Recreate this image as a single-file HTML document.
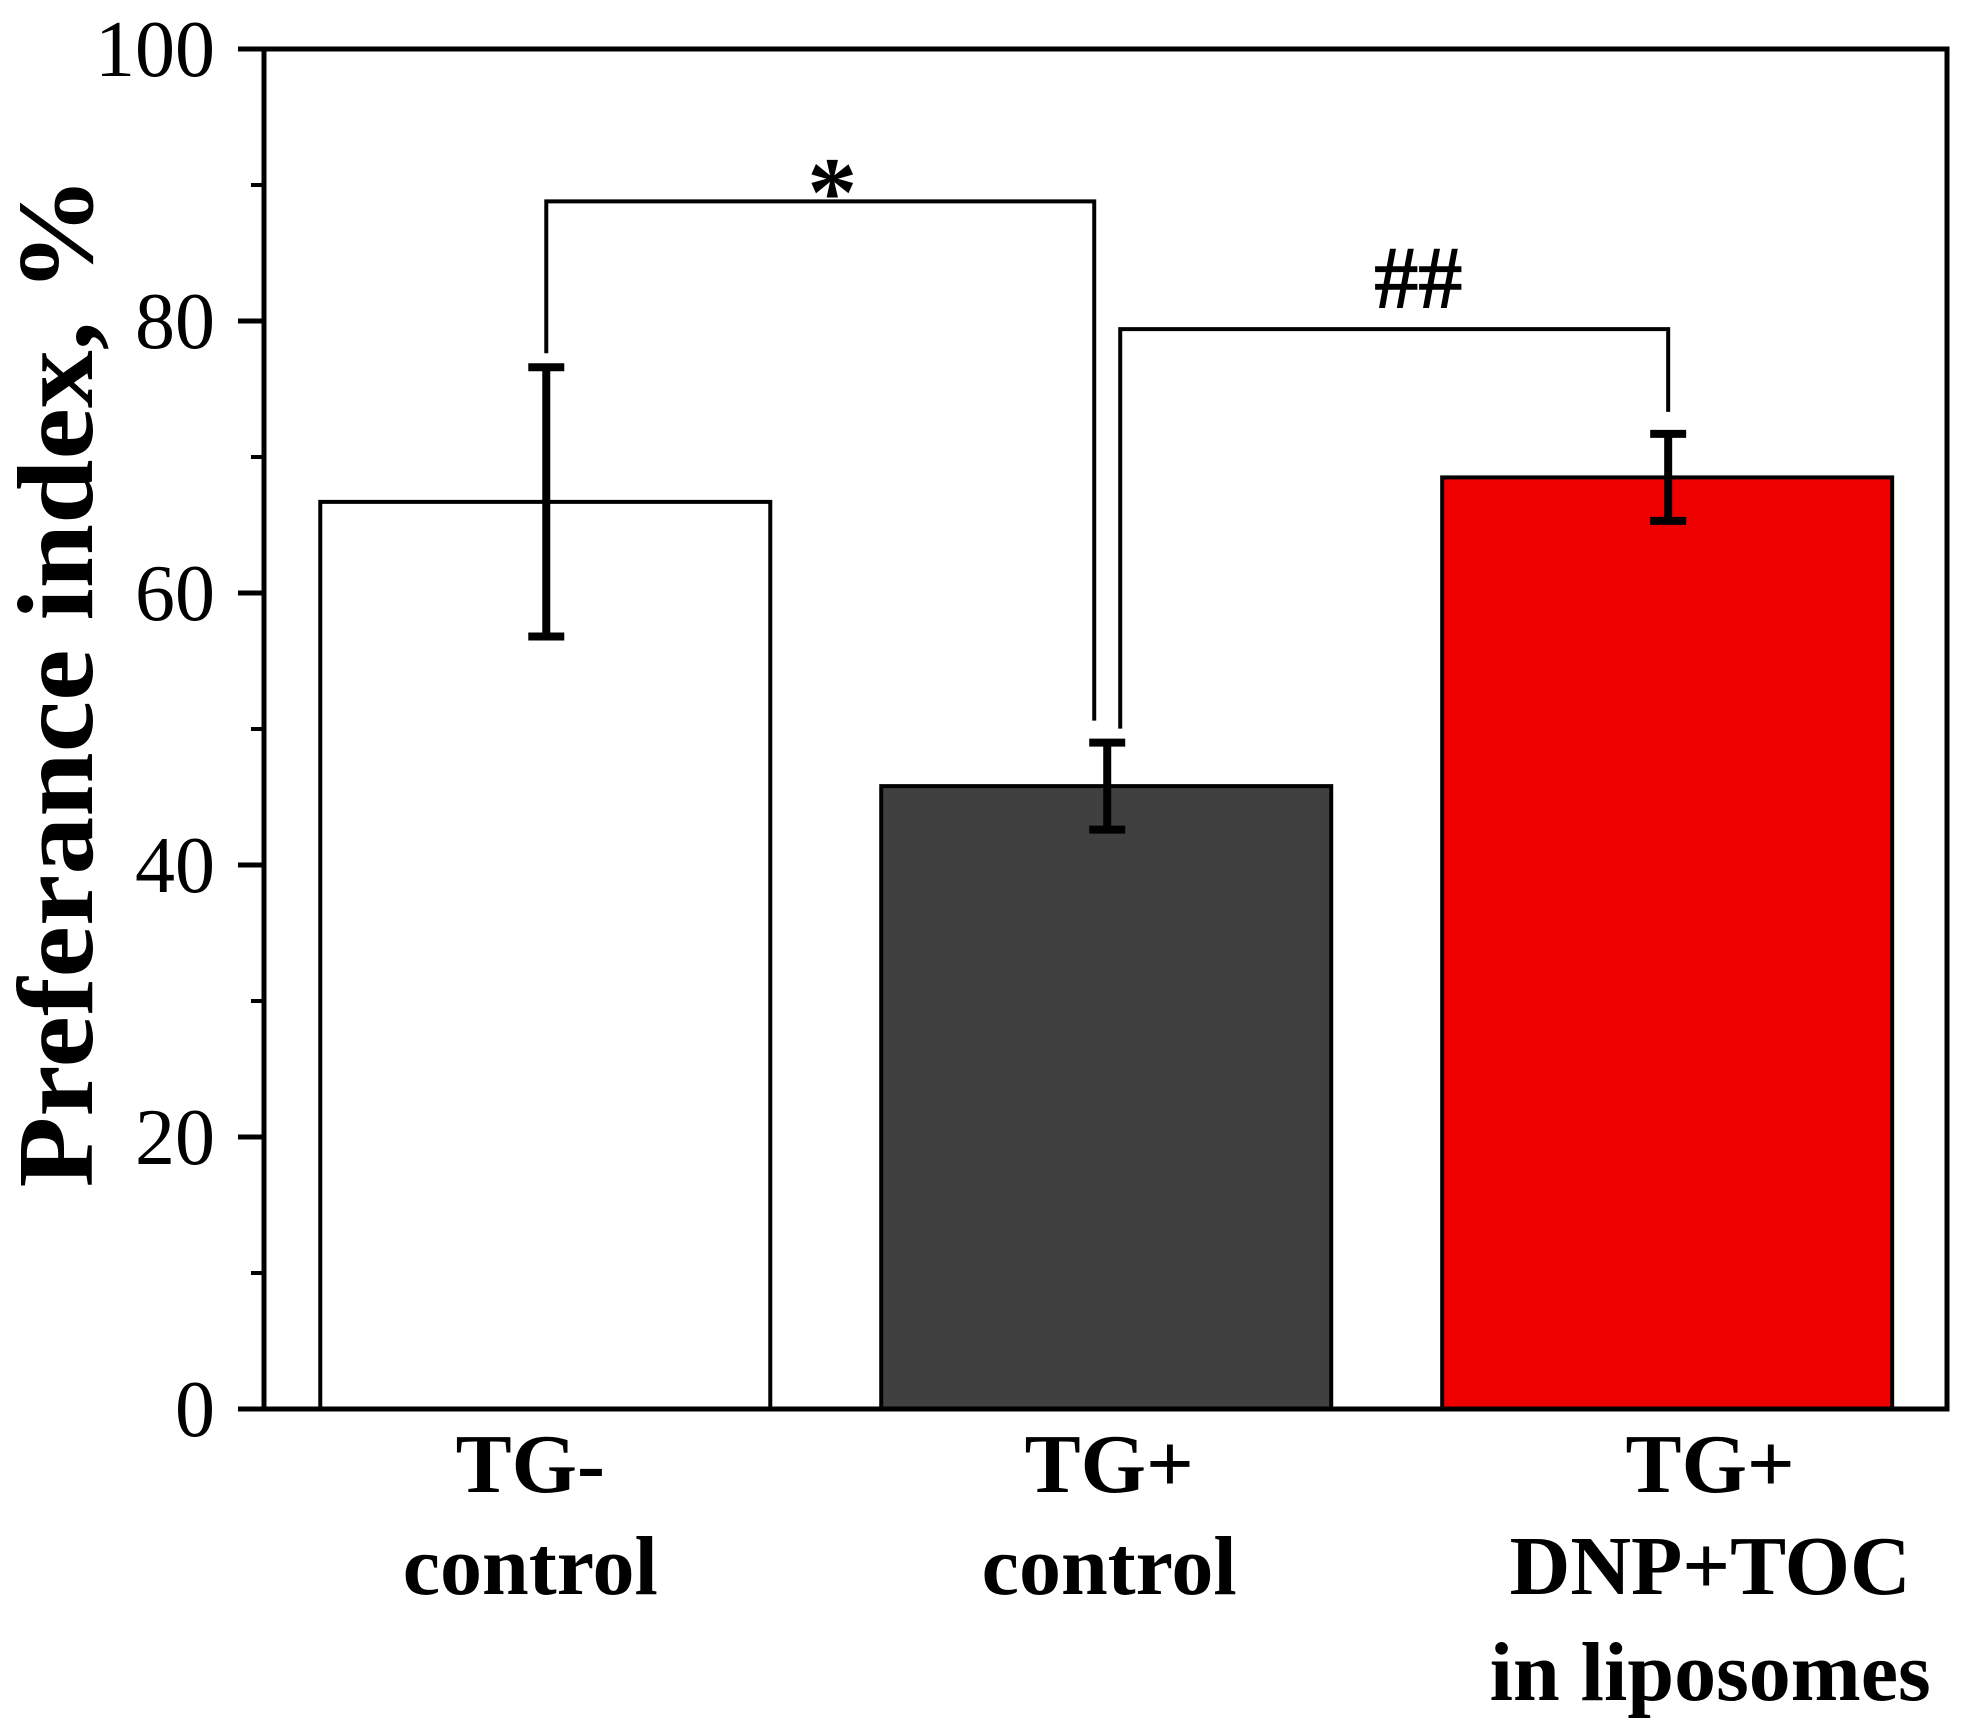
<!DOCTYPE html>
<html><head><meta charset="utf-8"><style>
html,body{margin:0;padding:0;background:#fff;}
svg{display:block;font-family:"Liberation Serif",serif;}
</style></head><body>
<svg id="chart" width="1971" height="1731" viewBox="0 0 1971 1731">
<g id="marks"></g>
</svg>
<script>
const categories = ["TG- control","TG+ control","TG+ DNP+TOC in liposomes"];
const values = [66.7, 45.8, 68.5];
const errors = [9.9, 3.2, 3.2];
const fills = ["#ffffff","#404040","#ee0000"];
const yTicks = [0,20,40,60,80,100];
const yMinor = [10,30,50,70,90];
const labelLines = [["TG-","control"],["TG+","control"],["TG+","DNP+TOC","in liposomes"]];
const brackets = [{a:0,b:1,level:88.8,text:"*"},{a:1,b:2,level:79.4,text:"##"}];

const NS="http://www.w3.org/2000/svg";
const L=264,R=1947,T=49,B=1409;
const y=v=>B-(v/100)*(B-T);
const bandStart=264.8, band=560.95, barW=450;
const cx=i=>bandStart+band*(i+0.5);
const svg=document.getElementById('marks');
function mk(tag,attrs,parent){const e=document.createElementNS(NS,tag);for(const k in attrs)e.setAttribute(k,attrs[k]);(parent||svg).appendChild(e);return e;}

categories.forEach((c,i)=>{
  const b=mk('rect',{x:cx(i)-barW/2,y:y(values[i]),width:barW,height:B-y(values[i]),fill:fills[i],stroke:'#000','stroke-width':4});
  
  
});
categories.forEach((c,i)=>{
  const g=mk('g',{stroke:'#000','stroke-width':8});
  
  
  const x=cx(i)+1, hi=y(values[i]+errors[i]), lo=y(values[i]-errors[i]);
  mk('line',{x1:x,x2:x,y1:hi,y2:lo},g);
  mk('line',{x1:x-18,x2:x+18,y1:hi,y2:hi},g);
  mk('line',{x1:x-18,x2:x+18,y1:lo,y2:lo},g);
});
brackets.forEach((br,k)=>{
  const g=mk('g',{});
  
  
  const xa=cx(br.a)+1+(k===1?13:0), xb=cx(br.b)+1-(k===0?13:0);
  const ya=y(values[br.a]+errors[br.a])-14, yb=y(values[br.b]+errors[br.b])-22;
  const yl=y(br.level);
  mk('polyline',{points:`${xa},${ya} ${xa},${yl} ${xb},${yl} ${xb},${yb}`,fill:'none',stroke:'#000','stroke-width':4},g);
  let t;
  if(br.text==='*') t=mk('text',{x:(xa+xb)/2+12,y:yl+24,'text-anchor':'middle','font-size':100,'font-weight':'bold'},g);
  else t=mk('text',{x:(xa+xb)/2+24,y:yl-22,'text-anchor':'middle','font-size':88,stroke:'#000','stroke-width':1.5},g);
  t.textContent=br.text;
});
const frame=mk('rect',{x:L,y:T,width:R-L,height:B-T,fill:'none',stroke:'#000','stroke-width':5});


yTicks.forEach(v=>{
  mk('line',{x1:L-26,x2:L,y1:y(v),y2:y(v),stroke:'#000','stroke-width':5});
  const t=mk('text',{x:215,y:y(v)+27,'text-anchor':'end','font-size':80});
  
  
  t.textContent=v;
});
yMinor.forEach(v=>mk('line',{x1:L-13,x2:L,y1:y(v),y2:y(v),stroke:'#000','stroke-width':4}));
const baselines=[1492,1594,1700];
const labelOffsets=[-15,3,43];
labelLines.forEach((lines,i)=>{
  const t=mk('text',{'text-anchor':'middle','font-size':84,'font-weight':'bold'});
  
  
  lines.forEach((ln,j)=>{const s=mk('tspan',{x:cx(i)+labelOffsets[i],y:baselines[j]},t);s.textContent=ln;});
});
const yt=mk('text',{x:0,y:0,transform:'translate(92,682) rotate(-90)','text-anchor':'middle','font-size':108,'font-weight':'bold',textLength:1011,lengthAdjust:'spacingAndGlyphs'});


yt.textContent="Preferance index, %";
</script>
</body></html>
